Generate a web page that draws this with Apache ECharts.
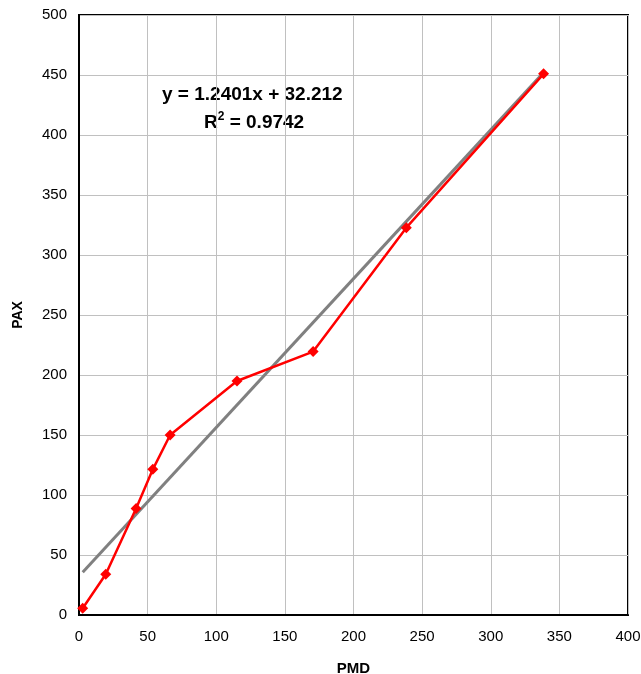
<!DOCTYPE html>
<html>
<head>
<meta charset="utf-8">
<script src="https://cdn.jsdelivr.net/npm/echarts@6/dist/echarts.min.js"></script>
<style>
  html, body { margin: 0; padding: 0; background: #fff; }
  #chart { width: 641px; height: 674px; }
</style>
</head>
<body>
<div id="chart"></div>
<script>
// observed points (PMD, PAX)
const pmd = [2.7, 19.5, 41.6, 53.8, 66.4, 115.1, 170.6, 238.5, 338.5]
const pax = [5.6, 33.9, 88.7, 121.4, 150, 195, 219.5, 322.8, 451]

// linear trendline as reported on the chart
const slope = 1.2401
const intercept = 32.212
const r2 = 0.9742

const xMin = Math.min(...pmd)
const xMax = Math.max(...pmd)
const trend = [
  [xMin, slope * xMin + intercept],
  [xMax, slope * xMax + intercept],
]

const font = 'Liberation Sans, Arial, sans-serif'

const chart = echarts.init(document.getElementById('chart'))

chart.setOption({
  animation: false,
  grid: {
    left: 79,
    right: 13,
    top: 15,
    bottom: 59,
    outerBoundsMode: 'none',
    containLabel: false,
    show: true,
    borderColor: '#000',
    borderWidth: 2,
  },
  xAxis: {
    type: 'value',
    min: 0,
    max: 400,
    interval: 50,
    name: 'PMD',
    nameLocation: 'middle',
    nameGap: 46,
    nameTextStyle: { fontFamily: font, fontSize: 15, fontWeight: 'bold', color: '#000' },
    axisLine: { show: true, lineStyle: { color: '#000', width: 2 } },
    axisTick: { show: false },
    axisLabel: { fontFamily: font, fontSize: 15, color: '#000', margin: 14 },
    splitLine: { show: true, lineStyle: { color: '#c0c0c0', width: 1 } },
  },
  yAxis: {
    type: 'value',
    min: 0,
    max: 500,
    interval: 50,
    name: 'PAX',
    nameLocation: 'middle',
    nameGap: 54,
    nameRotate: 90,
    nameTextStyle: { fontFamily: font, fontSize: 14, fontWeight: 'bold', color: '#000' },
    axisLine: { show: true, lineStyle: { color: '#000', width: 2 } },
    axisTick: { show: false },
    axisLabel: { fontFamily: font, fontSize: 15, color: '#000', margin: 12 },
    splitLine: { show: true, lineStyle: { color: '#c0c0c0', width: 1 } },
  },
  series: [
    {
      type: 'line',
      data: trend,
      showSymbol: false,
      lineStyle: { color: '#808080', width: 3 },
      z: 2,
    },
    {
      type: 'line',
      data: pmd.map((x, i) => [x, pax[i]]),
      symbol: 'diamond',
      symbolSize: 11,
      itemStyle: { color: '#ff0000' },
      lineStyle: { color: '#ff0000', width: 2.5 },
      z: 3,
    },
  ],
  graphic: [
    {
      type: 'text',
      left: 162,
      top: 85,
      style: {
        text: 'y = ' + slope + 'x + ' + intercept,
        font: 'bold 19px ' + font,
        fill: '#000',
      },
    },
    {
      type: 'text',
      left: 204,
      top: 108,
      style: {
        text: '{b|R}{s|2}{b| = ' + r2 + '}',
        fill: '#000',
        rich: {
          b: { font: 'bold 19px ' + font, fill: '#000', verticalAlign: 'bottom', lineHeight: 24 },
          s: { font: 'bold 12px ' + font, fill: '#000', verticalAlign: 'top', lineHeight: 24, padding: [3, 0, 0, 0] },
        },
      },
    },
  ],
})
</script>
</body>
</html>
